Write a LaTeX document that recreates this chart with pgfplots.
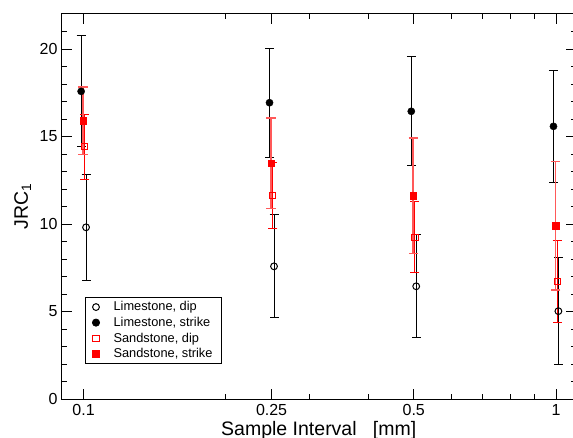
\documentclass[border=0pt]{standalone}
\usepackage{pgfplots}
\pgfplotsset{compat=1.18}
\usepackage{pgfplotstable}
\usepackage{fontspec}
\setmainfont{Liberation Sans}

\pgfplotstableread{
x y ey
0.1012 9.81 3.03
0.253 7.58 2.94
0.506 6.44 2.95
1.012 5.02 3.06
}\limedip
\pgfplotstableread{
x y ey
0.0988 17.58 3.17
0.2475 16.93 3.12
0.494 16.44 3.12
0.988 15.58 3.19
}\limestrike
\pgfplotstableread{
x y ey
0.1006 14.41 1.85
0.2515 11.63 1.86
0.503 9.25 2.05
1.006 6.73 2.35
}\sanddip
\pgfplotstableread{
x y ey
0.0998 15.89 1.93
0.2495 13.47 2.58
0.499 11.61 3.30
0.998 9.90 3.68
}\sandstrike

\begin{document}
\begin{tikzpicture}
\begin{axis}[
  at={(0,0)}, anchor=south west,
  scale only axis,
  width=513.5bp, height=385bp,
  xmode=log,
  xmin=0.09, xmax=1.1,
  ymin=0, ymax=22,
  xtick={0.1,0.25,0.5,1},
  xticklabels={0.1,0.25,0.5,1},
  minor xtick={0.2,0.3,0.4,0.6,0.7,0.8,0.9},
  ytick={0,5,10,15,20},
  minor ytick={1,2,3,4,6,7,8,9,11,12,13,14,16,17,18,19,21},
  tick align=inside,
  major tick length=10bp,
  minor tick length=5bp,
  tick style={black, line width=0.8bp},
  axis line style={black, line width=1bp},
  /pgf/number format/assume math mode=true,
  log ticks with fixed point,
  ticklabel style={font=\fontsize{16bp}{19bp}\selectfont},
  xticklabel style={yshift=-2bp},
  yticklabel style={xshift=-1bp},
  xlabel={Sample Interval\ \ \ [mm]},
  ylabel={JRC\textsubscript{1}},
  label style={font=\fontsize{19.5bp}{23bp}\selectfont},
  xlabel style={at={(axis description cs:0.5,-0.0935)}, anchor=base},
  ylabel style={at={(axis description cs:-0.0663,0.5)}, anchor=base, rotate=0},
  legend style={
    at={(axis description cs:0.0448,0.0909)}, anchor=south west,
    draw=black, line width=0.8bp,
    font=\fontsize{12.8bp}{15bp}\selectfont,
    inner xsep=7bp, inner ysep=2.5bp,
    row sep=0.8bp,
    cells={anchor=west},
    /tikz/every odd column/.append style={column sep=12bp},
  },
  legend cell align=left,
  clip=false,
]
\addplot[only marks, black, line width=1bp, mark=o, mark size=3.4bp,
  error bars/.cd, y dir=both, y explicit,
  error bar style={black, line width=1bp},
  error mark options={rotate=90, black, line width=1bp, mark size=4.5bp}]
  table[x=x, y=y, y error=ey] {\limedip};
\addlegendentry{Limestone, dip}
\addplot[only marks, black, mark=*, mark size=3.6bp,
  error bars/.cd, y dir=both, y explicit,
  error bar style={black, line width=1bp},
  error mark options={rotate=90, black, line width=1bp, mark size=4.5bp}]
  table[x=x, y=y, y error=ey] {\limestrike};
\addlegendentry{Limestone, strike}
\addplot[only marks, red, line width=1bp, mark=square, mark size=3.1bp,
  error bars/.cd, y dir=both, y explicit,
  error bar style={red, line width=1bp},
  error mark options={rotate=90, red, line width=1bp, mark size=4.5bp}]
  table[x=x, y=y, y error=ey] {\sanddip};
\addlegendentry{Sandstone, dip}
\addplot[only marks, red, mark=square*, mark size=3.3bp,
  error bars/.cd, y dir=both, y explicit,
  error bar style={red!65, line width=1.8bp},
  error mark options={rotate=90, red!65, line width=1.5bp, mark size=4.8bp}]
  table[x=x, y=y, y error=ey] {\sandstrike};
\addlegendentry{Sandstone, strike}
\end{axis}
\pgfresetboundingbox
\path[use as bounding box] (-62bp,-39bp) rectangle (511bp,399bp);
\end{tikzpicture}
\end{document}
